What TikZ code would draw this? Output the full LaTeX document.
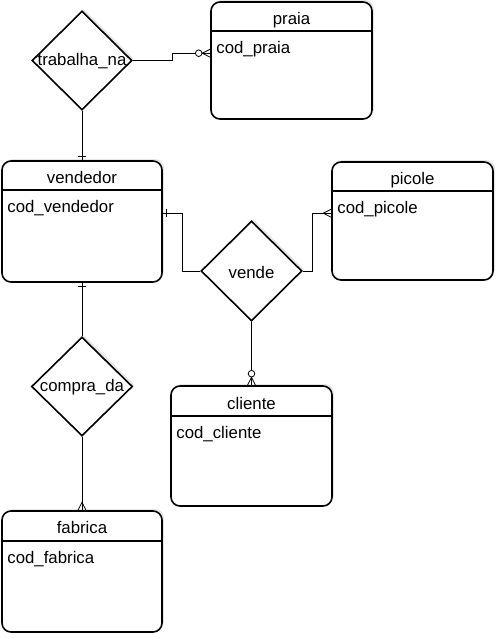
\documentclass[tikz,border=0pt]{standalone}
\usepackage{fontspec}
\setmainfont{Liberation Sans}
\usetikzlibrary{shapes.geometric,calc,shadows}

\begin{document}
\begin{tikzpicture}[x=1pt,y=1pt,yscale=-1,
  every node/.style={font=\fontsize{16.8}{20}\selectfont},
  entity/.style={draw, line width=1.6pt, rounded corners=9pt, fill=white, minimum width=160, minimum height=120,
    drop shadow={shadow xshift=2pt, shadow yshift=2pt, opacity=0.2}},
  relation/.style={draw, shape=diamond, line width=1.6pt, fill=white, minimum width=100, minimum height=100, inner sep=0pt,
    drop shadow={shadow xshift=2pt, shadow yshift=2pt, opacity=0.2}},
  header/.style={line width=1.6pt},
  conn/.style={line width=0.8pt},
  onebar/.pic={\draw[conn] (-4,-4) -- (-4,4);},
  crowfoot/.pic={\draw[conn] (0,-4) -- (-8,0) -- (0,4);},
  zerocrow/.pic={\draw[conn] (0,-4) -- (-8,0) -- (0,4); \draw[conn,fill=white] (-11.5,0) circle (3.3);}
]
\useasboundingbox (0,0) rectangle (498,638);

%Shape: Entity [id:praia]
\node[entity, minimum width=161, minimum height=117] (praia) at (291.5,60.5) {};
\draw[header] ($(praia.north west)+(0,30)$) -- ($(praia.north east)+(0,30)$);
\node[anchor=base] (praia-t) at ($(praia.north)+(0,23)$) {praia};
\node[anchor=base west, inner sep=0pt] (praia-a) at ($(praia.north west)+(6,52)$) {cod\_praia};
\coordinate (praia-in) at ($(praia.north west)+(0,52)$);

%Shape: Entity [id:vendedor]
\node[entity, minimum height=121] (vendedor) at (82,221.5) {};
\draw[header] ($(vendedor.north west)+(0,30)$) -- ($(vendedor.north east)+(0,30)$);
\node[anchor=base] (vendedor-t) at ($(vendedor.north)+(0,23)$) {vendedor};
\node[anchor=base west, inner sep=0pt] (vendedor-a) at ($(vendedor.north west)+(6,52)$) {cod\_vendedor};
\coordinate (vendedor-out) at ($(vendedor.north east)+(0,53)$);

%Shape: Entity [id:picole]
\node[entity, minimum width=161, minimum height=118] (picole) at (412.5,221) {};
\draw[header] ($(picole.north west)+(0,30)$) -- ($(picole.north east)+(0,30)$);
\node[anchor=base] (picole-t) at ($(picole.north)+(0,23)$) {picole};
\node[anchor=base west, inner sep=0pt] (picole-a) at ($(picole.north west)+(6,52)$) {cod\_picole};
\coordinate (picole-in) at ($(picole.north west)+(0,52)$);

%Shape: Entity [id:cliente]
\node[entity, minimum width=161] (cliente) at (251.5,446) {};
\draw[header] ($(cliente.north west)+(0,31)$) -- ($(cliente.north east)+(0,31)$);
\node[anchor=base] (cliente-t) at ($(cliente.north)+(0,24)$) {cliente};
\node[anchor=base west, inner sep=0pt] (cliente-a) at ($(cliente.north west)+(6,53)$) {cod\_cliente};

%Shape: Entity [id:fabrica]
\node[entity, minimum height=121] (fabrica) at (82,571.5) {};
\draw[header] ($(fabrica.north west)+(0,31)$) -- ($(fabrica.north east)+(0,31)$);
\node[anchor=base] (fabrica-t) at ($(fabrica.north)+(0,23)$) {fabrica};
\node[anchor=base west, inner sep=0pt] (fabrica-a) at ($(fabrica.north west)+(6,53)$) {cod\_fabrica};

%Shape: Diamond [id:trabalha_na]
\node[relation, minimum height=99] (trab) at (82,60.5) {};
\node (trab-l) at ($(trab)+(0,1)$) {trabalha\_na};

%Shape: Diamond [id:vende]
\node[relation, minimum width=101] (vende) at (251.5,271) {};
\node (vende-l) at ($(vende)+(0,1)$) {vende};

%Shape: Diamond [id:compra_da]
\node[relation, minimum width=101, minimum height=99] (compra) at (82,386.5) {};
\node (compra-l) at ($(compra)+(0,1)$) {compra\_da};

%Connectors
\draw[conn] (trab.south) -- (vendedor.north);
\pic[rotate=-90] at (vendedor.north) {onebar};
\draw[conn] (trab.east) -- ++(40,0) |- (praia-in);
\pic at (praia-in) {zerocrow};
\draw[conn] (vendedor-out) -- ++(20,0) |- (vende.west);
\pic[rotate=180] at (vendedor-out) {onebar};
\draw[conn] (vende.east) -- ++(10,0) |- (picole-in);
\pic at (picole-in) {crowfoot};
\draw[conn] (vende.south) -- (cliente.north);
\pic[rotate=-90] at (cliente.north) {zerocrow};
\draw[conn] (vendedor.south) -- (compra.north);
\pic[rotate=90] at (vendedor.south) {onebar};
\draw[conn] (compra.south) -- (fabrica.north);
\pic[rotate=-90] at (fabrica.north) {crowfoot};
\end{tikzpicture}
\end{document}
